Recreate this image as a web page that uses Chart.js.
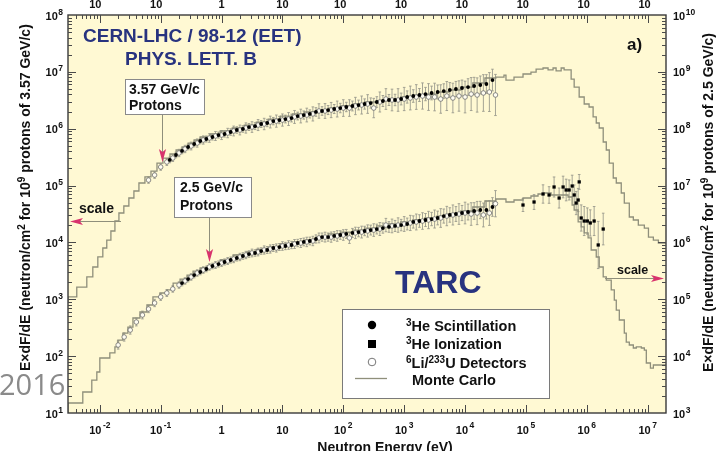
<!DOCTYPE html>
<html>
<head>
<meta charset="utf-8">
<title>TARC neutron energy spectra</title>
<script src="https://cdn.jsdelivr.net/npm/chart.js@4.4.1/dist/chart.umd.min.js"></script>
<style>
  html, body { margin: 0; padding: 0; background: #ffffff; }
  canvas { display: block; }
</style>
</head>
<body>
<canvas id="spectrum" width="725" height="451"></canvas>
<script>
// ---- axis decades ----
const xTickValues = [1e-2, 1e-1, 1, 10, 1e2, 1e3, 1e4, 1e5, 1e6, 1e7];
const yTickValues357 = [1e1, 1e2, 1e3, 1e4, 1e5, 1e6, 1e7, 1e8];
const yTickValues25 = [1e3, 1e4, 1e5, 1e6, 1e7, 1e8, 1e9, 1e10];

// ---- Monte Carlo histograms: bin start energy (eV) and E*dF/dE; last entry closes the last bin ----
const mcEnergy357 = [3.0e-3, 4.18e-3, 6.11e-3, 7.67e-3, 9.27e-3, 1.12e-2, 1.30e-2, 1.52e-2, 1.77e-2, 2.06e-2,
  2.48e-2, 3.00e-2, 3.63e-2, 4.39e-2, 5.51e-2, 6.92e-2, 8.69e-2, 0.109, 0.142, 0.179,
  0.224, 0.282, 0.354, 0.444, 0.649, 0.948, 1.50, 2.36, 3.72, 5.86,
  9.23, 14.6, 23.0, 36.2, 57.0, 89.9, 142, 223, 352, 555,
  875, 1380, 2180, 3430, 5410, 8530, 1.34e4, 2.12e4, 3.21e4, 4.36e4,
  4.70e4, 6.37e4, 8.96e4, 1.21e5, 1.47e5, 1.91e5, 2.31e5, 2.79e5, 3.13e5, 3.79e5,
  4.24e5, 5.53e5, 6.20e5, 7.49e5, 9.06e5, 1.09e6, 1.27e6, 1.43e6, 1.60e6, 1.86e6,
  2.09e6, 2.34e6, 2.72e6, 3.05e6, 3.68e6, 4.13e6, 4.99e6, 5.81e6, 7.02e6, 8.81e6,
  1.03e7, 1.24e7, 1.50e7, 1.81e7, 2.0e7];
const mcFlux357 = [8.95e2, 1.10e3, 1.64e3, 2.47e3, 3.70e3, 5.55e3, 7.98e3, 1.10e4, 1.59e4, 2.38e4,
  3.29e4, 4.37e4, 6.04e4, 8.02e4, 1.11e5, 1.42e5, 1.80e5, 2.49e5, 3.05e5, 3.59e5,
  4.22e5, 4.77e5, 5.60e5, 6.33e5, 7.15e5, 8.07e5, 9.12e5, 1.03e6, 1.16e6, 1.31e6,
  1.48e6, 1.67e6, 1.82e6, 1.97e6, 2.13e6, 2.31e6, 2.51e6, 2.72e6, 2.95e6, 3.13e6,
  3.33e6, 3.61e6, 3.84e6, 4.07e6, 4.42e6, 4.80e6, 5.41e6, 6.37e6, 7.80e6, 8.11e6,
  8.79e6, 7.18e6, 8.11e6, 9.16e6, 9.93e6, 1.12e7, 1.17e7, 1.08e7, 1.17e7, 1.04e7,
  1.17e7, 1.08e7, 7.48e6, 5.41e6, 3.61e6, 2.72e6, 2.41e6, 1.61e6, 1.26e6, 1.03e6,
  5.84e5, 4.22e5, 2.49e5, 1.36e5, 1.11e5, 7.40e4, 4.93e4, 2.80e4, 2.48e4, 2.02e4,
  1.79e4, 1.24e4, 1.10e4, 9.77e3, 9.77e3];

const mcEnergy25 = [3.0e-3, 5.25e-3, 7.38e-3, 8.93e-3, 1.00e-2, 1.46e-2, 1.77e-2, 1.98e-2, 2.39e-2, 2.89e-2,
  3.50e-2, 4.56e-2, 5.94e-2, 7.46e-2, 9.73e-2, 0.127, 0.160, 0.208, 0.271, 0.340,
  0.444, 0.579, 0.727, 0.948, 1.55, 2.64, 3.72, 5.86, 9.23, 14.6,
  23.0, 36.2, 57.0, 89.9, 142, 223, 352, 555, 875, 1380,
  2180, 3430, 5410, 8530, 1.34e4, 2.12e4, 3.21e4, 4.70e4, 6.37e4, 8.96e4,
  1.21e5, 1.58e5, 1.99e5, 2.59e5, 4.93e5, 5.74e5, 6.20e5, 7.21e5, 8.08e5, 9.06e5,
  1.05e6, 1.18e6, 1.43e6, 1.60e6, 1.86e6, 2.09e6, 2.52e6, 2.83e6, 3.05e6, 3.42e6,
  4.13e6, 4.45e6, 4.99e6, 5.81e6, 6.51e6, 7.87e6, 8.81e6, 9.50e6, 1.11e7, 1.24e7,
  1.81e7, 2.0e7];
const mcFlux25 = [2.0e2, 1.50e3, 2.34e3, 3.80e3, 5.26e3, 9.27e3, 1.14e4, 1.45e4, 1.92e4, 2.55e4,
  3.25e4, 4.69e4, 5.97e4, 7.93e4, 1.10e5, 1.29e5, 1.46e5, 1.93e5, 2.27e5, 2.67e5,
  3.14e5, 3.55e5, 3.85e5, 4.17e5, 4.91e5, 6.01e5, 6.79e5, 7.51e5, 8.30e5, 9.38e5,
  1.02e6, 1.10e6, 1.24e6, 1.41e6, 1.52e6, 1.65e6, 1.79e6, 1.95e6, 2.11e6, 2.29e6,
  2.48e6, 2.69e6, 2.91e6, 3.16e6, 3.57e6, 4.20e6, 5.35e6, 5.80e6, 5.14e6, 5.57e6,
  6.04e6, 6.55e6, 7.11e6, 7.40e6, 6.83e6, 6.29e6, 4.55e6, 3.72e6, 2.29e6, 1.87e6,
  1.47e6, 1.20e6, 7.36e5, 5.54e5, 3.70e5, 2.47e5, 2.18e5, 1.46e5, 9.70e4, 6.47e4,
  4.32e4, 2.55e4, 1.77e4, 1.57e4, 1.39e4, 1.45e4, 1.39e4, 1.28e4, 7.57e3, 6.18e3,
  6.98e3, 6.98e3];

// ---- 6Li/233U detectors (open circles); errors in percent ----
const liEnergy = [0.02, 0.0251, 0.0316, 0.0398, 0.0501, 0.0631, 0.0794, 0.1, 0.126, 0.158,
  0.2, 0.251, 0.316, 0.398, 0.501, 0.631, 0.794, 1, 1.26, 1.58,
  2, 2.51, 3.16, 3.98, 5.01, 6.31, 7.94, 10, 12.6, 15.8,
  20, 25.1, 31.6, 39.8, 50.1, 63.1, 79.4, 100, 126, 158,
  200, 251, 316, 398, 501, 631, 794, 1000, 1260, 1580,
  2000, 2510, 3160, 3980, 5010, 6310, 7940, 1.0e4, 1.26e4, 1.58e4,
  2.0e4, 2.51e4, 3.16e4];
const liFlux357 = [null, null, null, null, null, 1.25e5, 1.53e5, 2.12e5, 2.60e5, 3.05e5,
  3.74e5, 4.40e5, 4.96e5, 5.60e5, 6.33e5, 6.86e5, 7.45e5, 7.74e5, 8.40e5, 9.12e5,
  9.49e5, 1.03e6, 1.07e6, 1.16e6, 1.21e6, 1.31e6, 1.36e6, 1.42e6, 1.48e6, 1.61e6,
  1.67e6, 1.74e6, 1.82e6, 2.05e6, 2.05e6, 2.13e6, 2.22e6, 2.31e6, 2.31e6, 2.51e6,
  2.61e6, 2.72e6, 2.31e6, 2.95e6, 3.33e6, 3.20e6, 3.20e6, 3.33e6, 3.47e6, 3.61e6,
  3.76e6, 3.61e6, 3.61e6, 3.33e6, 3.76e6, 3.47e6, 3.76e6, 3.61e6, 4.07e6, 3.92e6,
  4.25e6, 4.42e6, 3.92e6];
const liErr357 = [null, null, null, null, null, 14, 14, 14, 15, 15,
  16, 16, 17, 18, 18, 19, 20, 20, 21, 22,
  22, 23, 24, 25, 26, 27, 28, 28, 30, 30,
  32, 32, 33, 34, 35, 36, 38, 40, 40, 42,
  44, 46, 48, 50, 52, 55, 58, 60, 62, 65,
  70, 72, 75, 78, 80, 82, 85, 90, 95, 100,
  110, 120, 130];
const liFlux25 = [1.57e4, 2.17e4, 2.88e4, 3.98e4, 5.29e4, 6.75e4, 8.61e4, 1.10e5, 1.29e5, 1.52e5,
  1.78e5, 2.10e5, 2.47e5, 2.90e5, 3.27e5, 3.70e5, 4.01e5, 4.35e5, 4.71e5, 5.11e5,
  5.54e5, 6.01e5, 6.52e5, 6.79e5, 7.36e5, 7.66e5, 7.98e5, 8.65e5, 9.02e5, 9.38e5,
  9.77e5, 1.02e6, 1.06e6, 1.20e6, 1.24e6, 1.24e6, 1.30e6, 1.35e6, 1.20e6, 1.47e6,
  1.52e6, 1.59e6, 1.65e6, 1.72e6, 2.02e6, 1.95e6, 2.02e6, 2.11e6, 2.20e6, 2.29e6,
  2.38e6, 2.48e6, 2.58e6, 2.69e6, 2.91e6, 3.04e6, 3.16e6, 3.29e6, 3.16e6, 3.29e6,
  3.04e6, 3.29e6, 4.8e6];
const liErr25 = [18, 18, 18, 17, 17, 16, 16, 15, 15, 14,
  14, 14, 14, 14, 14, 14, 15, 15, 15, 16,
  16, 16, 17, 17, 18, 18, 18, 19, 19, 20,
  20, 21, 21, 22, 22, 23, 24, 24, 25, 26,
  27, 28, 29, 30, 31, 32, 34, 35, 36, 38,
  40, 42, 44, 46, 48, 50, 52, 55, 58, 60,
  62, 65, 70];

// ---- 3He scintillation (filled circles) ----
const scEnergy = [0.141, 0.178, 0.224, 0.282, 0.355, 0.447, 0.562, 0.708, 0.891, 1.12,
  1.41, 1.78, 2.24, 2.82, 3.55, 4.47, 5.62, 7.08, 8.91, 11.2,
  14.1, 17.8, 22.4, 28.2, 35.5, 44.7, 56.2, 70.8, 89.1, 112,
  141, 178, 224, 282, 355, 447, 562, 708, 891, 1120,
  1410, 1780, 2240, 2820, 3550, 4470, 5620, 7080, 8910, 1.12e4,
  1.41e4, 1.78e4, 2.24e4, 2.82e4];
const scFlux357 = [2.82e5, 3.45e5, 4.06e5, 4.77e5, 5.38e5, 6.08e5, 6.59e5, 7.15e5, 7.74e5, 8.07e5,
  8.75e5, 9.49e5, 9.89e5, 1.07e6, 1.11e6, 1.21e6, 1.26e6, 1.36e6, 1.42e6, 1.48e6,
  1.54e6, 1.67e6, 1.74e6, 1.82e6, 1.97e6, 2.05e6, 2.13e6, 2.22e6, 2.31e6, 2.41e6,
  2.51e6, 2.61e6, 2.72e6, 2.83e6, 2.95e6, 3.07e6, 3.20e6, 3.20e6, 3.33e6, 3.61e6,
  3.76e6, 3.92e6, 4.07e6, 4.25e6, 4.42e6, 4.60e6, 4.80e6, 4.99e6, 5.20e6, 5.41e6,
  5.64e6, 5.87e6, 6.11e6, 7.18e6];
const scErr357 = [12, 12, 12, 12, 12, 12, 13, 13, 13, 13,
  14, 14, 14, 15, 15, 15, 16, 16, 16, 17,
  17, 17, 18, 18, 19, 19, 20, 20, 21, 21,
  22, 22, 23, 23, 24, 25, 25, 26, 27, 28,
  29, 30, 31, 32, 33, 34, 35, 36, 38, 40,
  42, 44, 46, 55];
const scFlux25 = [null, null, 1.93e5, 2.27e5, 2.67e5, 3.02e5, 3.41e5, 3.85e5, 4.17e5, 4.53e5,
  4.91e5, 5.32e5, 5.77e5, 6.25e5, 6.52e5, 7.06e5, 7.36e5, 7.98e5, 8.30e5, 8.65e5,
  9.02e5, 9.77e5, 1.02e6, 1.06e6, 1.15e6, 1.24e6, 1.24e6, 1.30e6, 1.35e6, 1.41e6,
  1.47e6, 1.52e6, 1.59e6, 1.65e6, 1.72e6, 1.79e6, 1.87e6, 1.95e6, 2.02e6, 2.11e6,
  2.29e6, 2.38e6, 2.48e6, 2.58e6, 2.69e6, 2.91e6, 3.04e6, 3.16e6, 3.29e6, 3.43e6,
  3.57e6, 3.72e6, 3.72e6, 4.20e6];
const scErr25 = [null, null, 12, 12, 12, 12, 12, 12, 13, 13,
  13, 13, 14, 14, 14, 14, 15, 15, 15, 16,
  16, 16, 17, 17, 18, 18, 18, 19, 19, 20,
  20, 21, 21, 22, 22, 23, 24, 25, 26, 27,
  28, 29, 30, 31, 32, 33, 34, 35, 36, 38,
  40, 42, 44, 46];

// ---- 3He ionization chamber (filled squares), 2.5 GeV/c run ----
const ionEnergy = [8.95e4, 1.36e5, 1.91e5, 2.40e5, 2.90e5, 3.51e5, 4.08e5, 4.58e5, 5.13e5, 5.75e5,
  6.21e5, 6.69e5, 7.21e5, 7.50e5, 8.09e5, 9.06e5, 1.02e6, 1.14e6, 1.32e6, 1.54e6, 1.86e6];
const ionFlux25 = [4.55e6, 5.14e6, 7.11e6, 6.83e6, 9.44e6, 6.04e6, 9.44e6, 8.36e6, 8.36e6, 9.82e6,
  6.83e6, 4.93e6, 5.57e6, 1.16e7, 2.69e6, 2.38e6, 2.38e6, 2.20e6, 2.38e6, 9.02e5, 1.72e6];
const ionErr25 = [30, 35, 45, 40, 50, 50, 55, 55, 50, 55,
  50, 60, 60, 35, 70, 80, 70, 70, 80, 160, 90];

// ---- styling ----
const SANS = '"Liberation Sans", Helvetica, Arial, sans-serif';
const CREAM = '#fff9d3';
const NAVY = '#28337f';
const PINK = '#d8336d';
const MC_GREY = '#8f8f7b';
const BAR_GREY = '#9b9b8d';
const FRAME = '#3a3a3a';

function points(E, F, err) {
  const out = [];
  E.forEach((e, i) => {
    if (F[i] != null) out.push({ x: e, y: F[i], err: err ? err[i] / 100 : 0 });
  });
  return out;
}

// text with raised exponents: parts = [[text, isSuperscript], ...]
function richText(ctx, parts, x, y, o) {
  const fontFor = sup => `${o.weight || 'bold'} ${sup ? o.supSize : o.size}px ${SANS}`;
  const gap = o.gap || 0;
  let total = 0;
  const widths = parts.map(([t, sup]) => {
    ctx.font = fontFor(sup);
    const w = ctx.measureText(t).width + (sup ? gap : 0);
    total += w;
    return w;
  });
  let cx = o.align === 'center' ? x - total / 2 : o.align === 'right' ? x - total : x;
  ctx.textAlign = 'left';
  ctx.textBaseline = 'alphabetic';
  parts.forEach(([t, sup], i) => {
    ctx.font = fontFor(sup);
    ctx.fillText(t, cx + (sup ? gap : 0), sup ? y - o.rise : y);
    cx += widths[i];
  });
}

// "1", "10" or 10 with a raised exponent; the vertical axes always show the exponent
function powerParts(v, alwaysExp) {
  const e = Math.round(Math.log10(v));
  if (!alwaysExp && e === 0) return [['1', false]];
  if (!alwaysExp && e === 1) return [['10', false]];
  return [['10', false], [String(e), true]];
}

function arrow(ctx, x0, y0, x1, y1) {
  const ang = Math.atan2(y1 - y0, x1 - x0);
  const L = 13, W = 3.6, N = 3;
  ctx.strokeStyle = MC_GREY;
  ctx.lineWidth = 1;
  ctx.beginPath();
  ctx.moveTo(x0, y0);
  ctx.lineTo(x1 - Math.cos(ang) * (L - N), y1 - Math.sin(ang) * (L - N));
  ctx.stroke();
  ctx.save();
  ctx.translate(x1, y1);
  ctx.rotate(ang);
  ctx.fillStyle = PINK;
  ctx.beginPath();
  ctx.moveTo(0, 0);
  ctx.lineTo(-L, -W);
  ctx.lineTo(-L + N, 0);
  ctx.lineTo(-L, W);
  ctx.closePath();
  ctx.fill();
  ctx.restore();
}

function labelBox(ctx, x, y, w, h, lines, tx, baselines) {
  ctx.fillStyle = '#ffffff';
  ctx.fillRect(x, y, w, h);
  ctx.strokeStyle = '#8a8a8a';
  ctx.lineWidth = 1;
  ctx.strokeRect(x, y, w, h);
  ctx.fillStyle = '#111111';
  ctx.font = `bold 14px ${SANS}`;
  ctx.textAlign = 'left';
  ctx.textBaseline = 'alphabetic';
  lines.forEach((t, i) => ctx.fillText(t, tx, baselines[i]));
}

const panelPlugin = {
  id: 'panel',
  beforeDraw(chart) {
    const { ctx, chartArea: a } = chart;
    ctx.save();
    ctx.fillStyle = '#ffffff';
    ctx.fillRect(0, 0, chart.width, chart.height);
    ctx.fillStyle = CREAM;
    ctx.fillRect(a.left, a.top, a.right - a.left, a.bottom - a.top);
    ctx.restore();
  }
};

// error bars: a relative error e spans value/(1+e) .. value*(1+e) on the log axis
const errorBarPlugin = {
  id: 'errorBars',
  beforeDatasetsDraw(chart) {
    const { ctx, chartArea: a } = chart;
    ctx.save();
    ctx.beginPath();
    ctx.rect(a.left, a.top, a.right - a.left, a.bottom - a.top);
    ctx.clip();
    ctx.strokeStyle = BAR_GREY;
    ctx.lineWidth = 0.9;
    chart.data.datasets.forEach((ds, i) => {
      if (!ds.errorBars) return;
      const meta = chart.getDatasetMeta(i);
      const ys = chart.scales[ds.yAxisID];
      ds.data.forEach((p, j) => {
        const el = meta.data[j];
        if (!el || !p.err) return;
        const x = el.x;
        const yHi = ys.getPixelForValue(p.y * (1 + p.err));
        const yLo = ys.getPixelForValue(p.y / (1 + p.err));
        ctx.beginPath();
        ctx.moveTo(x, yLo); ctx.lineTo(x, yHi);
        ctx.moveTo(x - 1.3, yLo); ctx.lineTo(x + 1.3, yLo);
        ctx.moveTo(x - 1.3, yHi); ctx.lineTo(x + 1.3, yHi);
        ctx.stroke();
      });
    });
    ctx.restore();
  }
};

const decorPlugin = {
  id: 'decor',
  afterDraw(chart) {
    const { ctx, chartArea: a } = chart;
    const xs = chart.scales.x, yl = chart.scales.y, yr = chart.scales.y2;
    ctx.save();

    // header
    ctx.fillStyle = NAVY;
    ctx.textAlign = 'left';
    ctx.textBaseline = 'alphabetic';
    ctx.font = `bold 19px ${SANS}`;
    ctx.fillText('CERN-LHC / 98-12 (EET)', 83, 42);
    ctx.fillText('PHYS. LETT. B', 125, 65);
    ctx.font = `bold 32px ${SANS}`;
    ctx.fillText('TARC', 395, 293);
    ctx.fillStyle = '#111111';
    ctx.font = `bold 17px ${SANS}`;
    ctx.fillText('a)', 627, 50);

    // beam labels
    labelBox(ctx, 125.5, 79.5, 79, 35, ['3.57 GeV/c', 'Protons'], 129, [94, 110]);
    arrow(ctx, 162.5, 115, 162.5, 162);
    labelBox(ctx, 174.5, 177.5, 77, 40, ['2.5 GeV/c', 'Protons'], 180, [192, 210]);
    arrow(ctx, 209.5, 218, 209.5, 262);

    // scale pointers
    ctx.fillStyle = '#111111';
    ctx.font = `bold 14px ${SANS}`;
    ctx.fillText('scale', 79, 213);
    arrow(ctx, 121, 221.5, 70, 221.5);
    ctx.fillStyle = '#111111';
    ctx.font = `bold 12.5px ${SANS}`;
    ctx.fillText('scale', 617, 274);
    arrow(ctx, 605, 278.5, 664, 278.5);

    // legend
    ctx.fillStyle = '#ffffff';
    ctx.fillRect(342.5, 309.5, 207, 89);
    ctx.strokeStyle = '#7a7a7a';
    ctx.lineWidth = 1;
    ctx.strokeRect(342.5, 309.5, 207, 89);
    ctx.fillStyle = '#000000';
    ctx.beginPath(); ctx.arc(372, 325, 4.2, 0, Math.PI * 2); ctx.fill();
    ctx.fillRect(368, 340, 8, 8);
    ctx.strokeStyle = '#777777';
    ctx.lineWidth = 1;
    ctx.beginPath(); ctx.arc(372, 362, 3.8, 0, Math.PI * 2); ctx.stroke();
    ctx.strokeStyle = MC_GREY;
    ctx.lineWidth = 1.3;
    ctx.beginPath(); ctx.moveTo(355, 378.5); ctx.lineTo(387, 378.5); ctx.stroke();
    ctx.fillStyle = '#111111';
    const lo = { size: 14.5, supSize: 10, rise: 5.5 };
    richText(ctx, [['3', true], ['He Scintillation', false]], 406, 331, lo);
    richText(ctx, [['3', true], ['He Ionization', false]], 406, 349, lo);
    richText(ctx, [['6', true], ['Li/', false], ['233', true], ['U Detectors', false]], 406, 368, lo);
    richText(ctx, [['Monte Carlo', false]], 412, 385, lo);

    // frame
    ctx.strokeStyle = FRAME;
    ctx.lineWidth = 1.4;
    ctx.strokeRect(a.left, a.top, a.right - a.left, a.bottom - a.top);

    // inward ticks
    ctx.strokeStyle = '#4a4a4a';
    ctx.lineWidth = 1;
    ctx.beginPath();
    for (let d = -3; d <= 7; d++) {
      for (let m = 1; m <= 9; m++) {
        const v = m * Math.pow(10, d);
        if (v <= xs.min || v >= xs.max) continue;
        const px = Math.round(xs.getPixelForValue(v)) + 0.5;
        const len = m === 1 ? 8 : 4;
        ctx.moveTo(px, a.bottom); ctx.lineTo(px, a.bottom - len);
        ctx.moveTo(px, a.top); ctx.lineTo(px, a.top + len);
      }
    }
    for (let d = 1; d <= 7; d++) {
      for (let m = 1; m <= 9; m++) {
        const v = m * Math.pow(10, d);
        if (v <= yl.min || v >= yl.max) continue;
        const py = Math.round(yl.getPixelForValue(v)) + 0.5;
        const len = m === 1 ? 8 : 4;
        ctx.moveTo(a.left, py); ctx.lineTo(a.left + len, py);
        ctx.moveTo(a.right, py); ctx.lineTo(a.right - len, py);
      }
    }
    ctx.stroke();

    // tick labels (the top row runs off the top edge)
    ctx.fillStyle = '#111111';
    const tl = { size: 11, supSize: 8.5, rise: 6, gap: 1.5, align: 'center' };
    const tlTop = Object.assign({}, tl, { rise: 8.5 });
    xTickValues.forEach(v => {
      const px = xs.getPixelForValue(v);
      richText(ctx, powerParts(v, false), px, 434, tl);
      richText(ctx, powerParts(v, false), px, 8, tlTop);
    });
    const ylOpts = Object.assign({}, tl, { align: 'right', rise: 5, gap: 0.5 });
    const yrOpts = Object.assign({}, tl, { align: 'left', rise: 5, gap: 0.5 });
    yTickValues357.forEach(v => {
      richText(ctx, powerParts(v, true), 63, yl.getPixelForValue(v) + 4.5, ylOpts);
    });
    yTickValues25.forEach(v => {
      richText(ctx, powerParts(v, true), 673, yr.getPixelForValue(v) + 4.5, yrOpts);
    });

    // axis titles
    ctx.fillStyle = '#111111';
    const at = { size: 14, supSize: 10, rise: 5.5 };
    ctx.save();
    ctx.translate(30, 371);
    ctx.rotate(-Math.PI / 2);
    richText(ctx, [['E\u00d7dF/dE (neutron/cm', false], ['2', true], [' for 10', false], ['9', true], [' protons of 3.57 GeV/c)', false]], 0, 0, at);
    ctx.restore();
    ctx.save();
    ctx.translate(713, 372);
    ctx.rotate(-Math.PI / 2);
    richText(ctx, [['E\u00d7dF/dE (neutron/cm', false], ['2', true], [' for 10', false], ['9', true], [' protons of 2.5 GeV/c)', false]], 0, 0, at);
    ctx.restore();
    richText(ctx, [['Neutron Energy (eV)', false]], 385, 452, Object.assign({}, at, { align: 'center' }));

    // year mark
    ctx.fillStyle = '#8a8a8a';
    ctx.font = `29px "Open Sans", ${SANS}`;
    ctx.textAlign = 'left';
    ctx.fillText('2016', -1, 395);

    ctx.restore();
  }
};

const mcStyle = { type: 'line', showLine: true, stepped: 'after', borderColor: MC_GREY, borderWidth: 1.3,
  pointRadius: 0, fill: false, order: 5 };
const openStyle = { showLine: false, pointStyle: 'circle', pointRadius: 2.3, pointBorderWidth: 0.8,
  pointBorderColor: '#6f6f6f', pointBackgroundColor: '#fffdf2', borderColor: '#6f6f6f',
  backgroundColor: '#fffdf2', order: 3, errorBars: true };
const filledStyle = { showLine: false, pointStyle: 'circle', pointRadius: 1.9, pointBorderWidth: 0,
  pointBackgroundColor: '#000000', backgroundColor: '#000000', borderColor: '#000000', order: 2, errorBars: true };
const squareStyle = { showLine: false, pointStyle: 'rect', pointRadius: 2.3, pointBorderWidth: 0,
  pointBackgroundColor: '#000000', backgroundColor: '#000000', borderColor: '#000000', order: 1, errorBars: true };

new Chart(document.getElementById('spectrum'), {
  type: 'scatter',
  data: {
    datasets: [
      Object.assign({ label: 'Monte Carlo, 3.57 GeV/c', data: points(mcEnergy357, mcFlux357), yAxisID: 'y' }, mcStyle),
      Object.assign({ label: 'Monte Carlo, 2.5 GeV/c', data: points(mcEnergy25, mcFlux25), yAxisID: 'y2' }, mcStyle),
      Object.assign({ label: '6Li/233U Detectors, 3.57 GeV/c', data: points(liEnergy, liFlux357, liErr357), yAxisID: 'y' }, openStyle),
      Object.assign({ label: '6Li/233U Detectors, 2.5 GeV/c', data: points(liEnergy, liFlux25, liErr25), yAxisID: 'y2' }, openStyle),
      Object.assign({ label: '3He Scintillation, 3.57 GeV/c', data: points(scEnergy, scFlux357, scErr357), yAxisID: 'y' }, filledStyle),
      Object.assign({ label: '3He Scintillation, 2.5 GeV/c', data: points(scEnergy, scFlux25, scErr25), yAxisID: 'y2' }, filledStyle),
      Object.assign({ label: '3He Ionization, 2.5 GeV/c', data: points(ionEnergy, ionFlux25, ionErr25), yAxisID: 'y2' }, squareStyle)
    ]
  },
  options: {
    responsive: false,
    animation: false,
    devicePixelRatio: 1,
    events: [],
    layout: { padding: { top: 15, left: 0, right: 0, bottom: 0 } },
    plugins: { legend: { display: false }, tooltip: { enabled: false } },
    scales: {
      x: {
        type: 'logarithmic', position: 'bottom', min: 3.0e-3, max: 2.0e7,
        ticks: { display: false }, grid: { display: false }, border: { display: false },
        afterFit(s) { s.height = 38; }
      },
      y: {
        type: 'logarithmic', position: 'left', min: 1e1, max: 1e8,
        ticks: { display: false }, grid: { display: false }, border: { display: false },
        afterFit(s) { s.width = 68; }
      },
      y2: {
        type: 'logarithmic', position: 'right', min: 1e3, max: 1e10,
        ticks: { display: false }, grid: { display: false }, border: { display: false },
        afterFit(s) { s.width = 59; }
      }
    }
  },
  plugins: [panelPlugin, errorBarPlugin, decorPlugin]
});
</script>
</body>
</html>
